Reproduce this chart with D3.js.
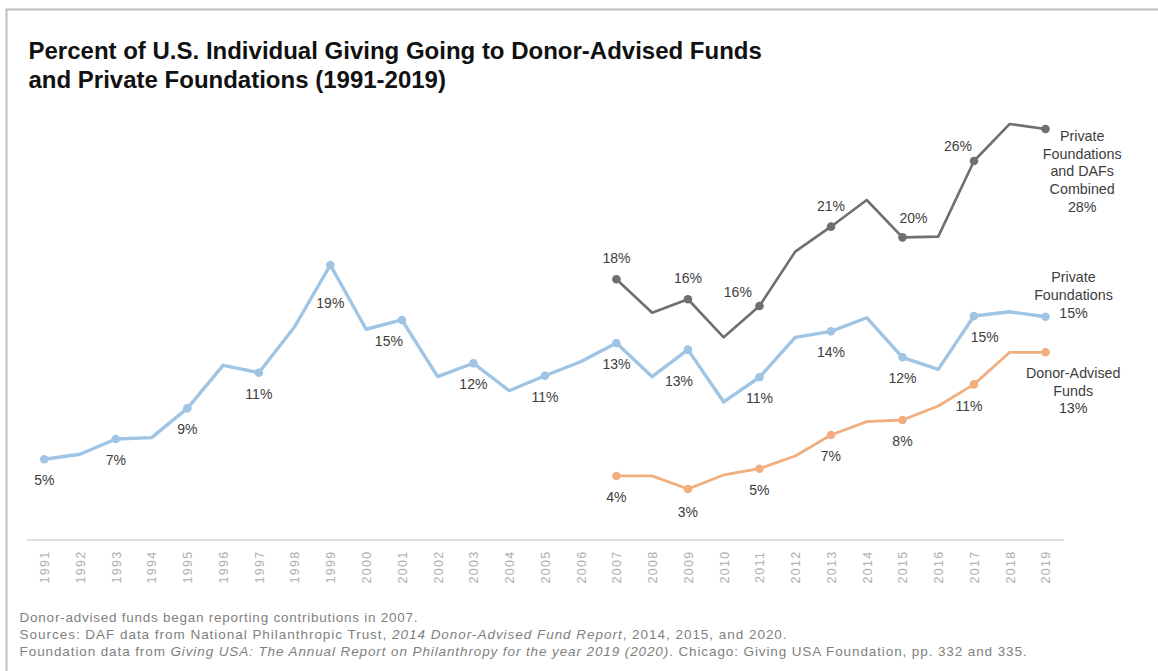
<!DOCTYPE html>
<html><head><meta charset="utf-8">
<script src="https://cdn.jsdelivr.net/npm/d3@7"></script>
<style>
body{margin:0;background:#fff}
svg{display:block}
text{font-family:"Liberation Sans",Arial,Helvetica,sans-serif}
</style>
</head><body>
<svg id="chart" width="1158" height="671"></svg>
<script>
// ---------- DATA ----------
const years = [1991,1992,1993,1994,1995,1996,1997,1998,1999,2000,2001,2002,2003,2004,2005,2006,2007,2008,2009,2010,2011,2012,2013,2014,2015,2016,2017,2018,2019];
const pfValues = [5.0,5.36,6.46,6.56,8.67,11.77,11.24,14.55,19.0,14.37,15.04,10.95,11.92,9.94,11.02,12.03,13.38,10.95,12.9,9.13,10.91,13.78,14.22,15.2,12.35,11.48,15.32,15.63,15.27];
const dafYears = [2007,2008,2009,2010,2011,2012,2013,2014,2015,2016,2017,2018,2019];
const dafValues = [3.8,3.81,2.86,3.87,4.32,5.24,6.75,7.71,7.83,8.84,10.4,12.71,12.71];
const combinedValues = [17.97,15.56,16.53,13.79,16.04,19.96,21.76,23.68,20.99,21.04,26.49,29.16,28.8];

const pfLabelYears = [1991,1993,1995,1997,1999,2001,2003,2005,2007,2009,2011,2013,2015,2017];
const pfLabels = ["5%","7%","9%","11%","19%","15%","12%","11%","13%","13%","11%","14%","12%","15%"];
const lateLabelYears = [2007,2009,2011,2013,2015,2017];
const combinedLabels = ["18%","16%","16%","21%","20%","26%"];
const dafLabels = ["4%","3%","5%","7%","8%","11%"];

const combinedName = ["Private","Foundations","and DAFs","Combined","28%"];
const pfName = ["Private","Foundations","15%"];
const dafName = ["Donor-Advised","Funds","13%"];

const titleLines = ["Percent of U.S. Individual Giving Going to Donor-Advised Funds","and Private Foundations (1991-2019)"];

// ---------- LAYOUT / STYLE ----------
const svg = d3.select("#chart");
const x = d3.scaleLinear().domain([1991, 2019]).range([44.3, 1045.5]);
const y = d3.scaleLinear().domain([0, 30]).range([528.7, 528.7 - 13.88*30]);
const C = {pf:"#9fc4e4", daf:"#f1ae7f", comb:"#6f6f6f", label:"#3d3d3d", tick:"#adadad", foot:"#7f7f7f"};

// frame
svg.append("rect").attr("x",6.5).attr("y",9.5).attr("width",1300).attr("height",800)
  .attr("fill","none").attr("stroke","#bdbdbd").attr("stroke-width",2);

// title
svg.append("g").selectAll("text").data(titleLines).join("text")
  .attr("x",28.5).attr("y",(d,i)=>59 + i*29)
  .attr("font-size",24).attr("font-weight","bold").attr("fill","#111")
  .text(d=>d);

// x axis
const xAxis = d3.axisBottom(x).tickValues(years).tickFormat(d3.format("d")).tickSize(0);
const gx = svg.append("g").attr("transform","translate(0,540)").call(xAxis);
gx.select(".domain").attr("d", `M27,0H1064`).attr("stroke","#d6d6d6").attr("stroke-width",1.5);
gx.selectAll(".tick text")
  .attr("transform","rotate(-90)")
  .attr("text-anchor","middle")
  .attr("x",-27).attr("y",0).attr("dy","0.35em")
  .attr("font-size",12.5).attr("letter-spacing","1.3px")
  .attr("font-family","'Liberation Sans',Arial,sans-serif")
  .attr("fill",C.tick);

// lines
const pfData = years.map((yr,i)=>({year:yr, v:pfValues[i]}));
const dafData = dafYears.map((yr,i)=>({year:yr, v:dafValues[i]}));
const combData = dafYears.map((yr,i)=>({year:yr, v:combinedValues[i]}));
const line = d3.line().x(d=>x(d.year)).y(d=>y(d.v));

function drawSeries(data, color, width){
  svg.append("path").datum(data).attr("d",line).attr("fill","none")
    .attr("stroke",color).attr("stroke-width",width).attr("stroke-linejoin","round");
  svg.append("g").selectAll("circle").data(data.filter(d=>d.year%2===1)).join("circle")
    .attr("cx",d=>x(d.year)).attr("cy",d=>y(d.v)).attr("r",4.3).attr("fill",color);
}
drawSeries(combData, C.comb, 2.6);
drawSeries(pfData, C.pf, 3.4);
drawSeries(dafData, C.daf, 2.8);

// data labels
const pfOff = {1999:[0,37.7], 2001:[-13,21], 2009:[-9,31], 2017:[10.7,21]};
const combOff = {2011:[-21.6,-14], 2015:[11,-19], 2017:[-16,-15]};
const dafOff = {2009:[0,22.7], 2017:[-5,21.7]};
function drawLabels(yearsArr, labels, data, offs, def){
  const look = new Map(data.map(d=>[d.year,d.v]));
  svg.append("g").selectAll("text").data(yearsArr).join("text")
    .attr("x",d=>x(d) + (offs[d]||def)[0])
    .attr("y",d=>y(look.get(d)) + (offs[d]||def)[1])
    .attr("dy","0.35em").attr("text-anchor","middle")
    .attr("font-size",14).attr("fill",C.label)
    .text((d,i)=>labels[i]);
}
drawLabels(pfLabelYears, pfLabels, pfData, pfOff, [0,21]);
drawLabels(lateLabelYears, combinedLabels, combData, combOff, [0,-21]);
drawLabels(lateLabelYears, dafLabels, dafData, dafOff, [0,21]);

// series-end labels
function endLabel(lines, data, dx, dy0, step){
  const last = data[data.length-1];
  svg.append("g").selectAll("text").data(lines).join("text")
    .attr("x", x(last.year)+dx).attr("y",(d,i)=>y(last.v)+dy0+i*step)
    .attr("dy","0.35em").attr("text-anchor","middle")
    .attr("font-size",14.3).attr("fill",C.label).text(d=>d);
}
endLabel(combinedName, combData, 36.7, 6.7, 17.9);
endLabel(pfName, pfData, 28, -40, 18.3);
endLabel(dafName, dafData, 27.7, 21, 17.4);

// footnotes
const foot = svg.append("g").attr("font-size",13.5).attr("fill",C.foot);
const f1 = foot.append("text").attr("x",19.6).attr("y",622).attr("textLength",398).attr("lengthAdjust","spacing");
f1.text("Donor-advised funds began reporting contributions in 2007.");
const f2 = foot.append("text").attr("x",19.6).attr("y",639).attr("textLength",767).attr("lengthAdjust","spacing");
f2.append("tspan").text("Sources: DAF data from National Philanthropic Trust, ");
f2.append("tspan").attr("font-style","italic").text("2014 Donor-Advised Fund Report");
f2.append("tspan").text(", 2014, 2015, and 2020.");
const f3 = foot.append("text").attr("x",19.6).attr("y",656).attr("textLength",1007).attr("lengthAdjust","spacing");
f3.append("tspan").text("Foundation data from ");
f3.append("tspan").attr("font-style","italic").text("Giving USA: The Annual Report on Philanthropy for the year 2019 (2020)");
f3.append("tspan").text(". Chicago: Giving USA Foundation, pp. 332 and 335.");
</script>
</body></html>
